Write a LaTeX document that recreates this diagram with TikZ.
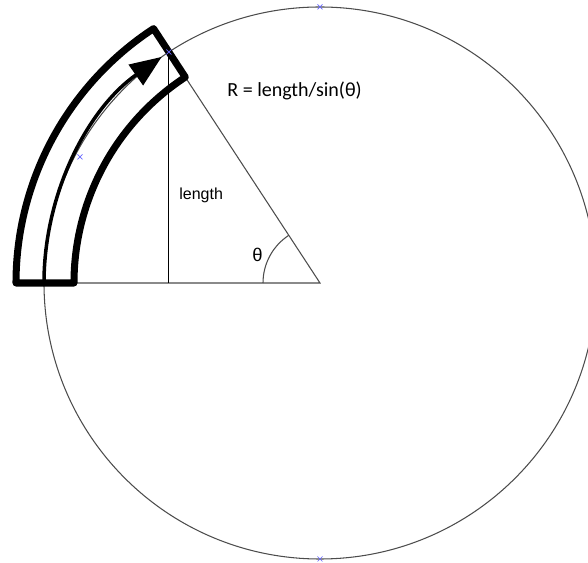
\documentclass[tikz,border=0pt]{standalone}
\usepackage{fontspec}
\setmainfont{Liberation Sans}
\newfontfamily\calibri{Carlito}
\usetikzlibrary{arrows.meta}

\begin{document}
\begin{tikzpicture}[x=.02cm,y=.02cm,
  every node/.style={inner sep=0pt,anchor=west},
  thinline/.style={line width=.6pt,black!70},
  tube/.style={line width=4pt,line join=round},
  bluecross/.style={blue!60,line width=.4pt}]
\useasboundingbox (-320,-280) rectangle (268,283);
\coordinate (O) at (0,0);
\coordinate (P) at (123.2:276);
\coordinate (F) at (P |- O);
\coordinate (T) at (0,276);
\coordinate (B) at (0,-276);
\coordinate (Q) at (-240,126);
% circle and triangle
\draw[thinline] (O) circle (276);
\draw[thinline] (-276,0) -- (O) -- (P);
\draw[line width=.6pt] (P) -- (F);
\draw[thinline] (-57,0) arc (180:123.2:57);
% bent tube
\draw[tube] (180:304) arc (180:123.2:304) -- (123.2:246) arc (123.2:180:246) -- cycle;
\draw[line width=2pt,-{Triangle[length=18pt,width=14pt]}] (180:276) arc (180:125:276);
\foreach \p in {T,B,Q,P}
  \draw[bluecross] ([shift={(-2.5,-2.5)}]\p) -- ([shift={(2.5,2.5)}]\p)
    ([shift={(-2.5,2.5)}]\p) -- ([shift={(2.5,-2.5)}]\p);
\node[font=\calibri\fontsize{11.4}{13}\selectfont] (formula) at (-93,192) {R = length/sin(θ)};
\node[font=\fontsize{9.1}{11}\selectfont] (len) at (-141,88) {length};
\node[anchor=center,font=\fontsize{10.5}{12}\selectfont] (theta) at (-62.5,28.5) {θ};
\end{tikzpicture}
\end{document}
